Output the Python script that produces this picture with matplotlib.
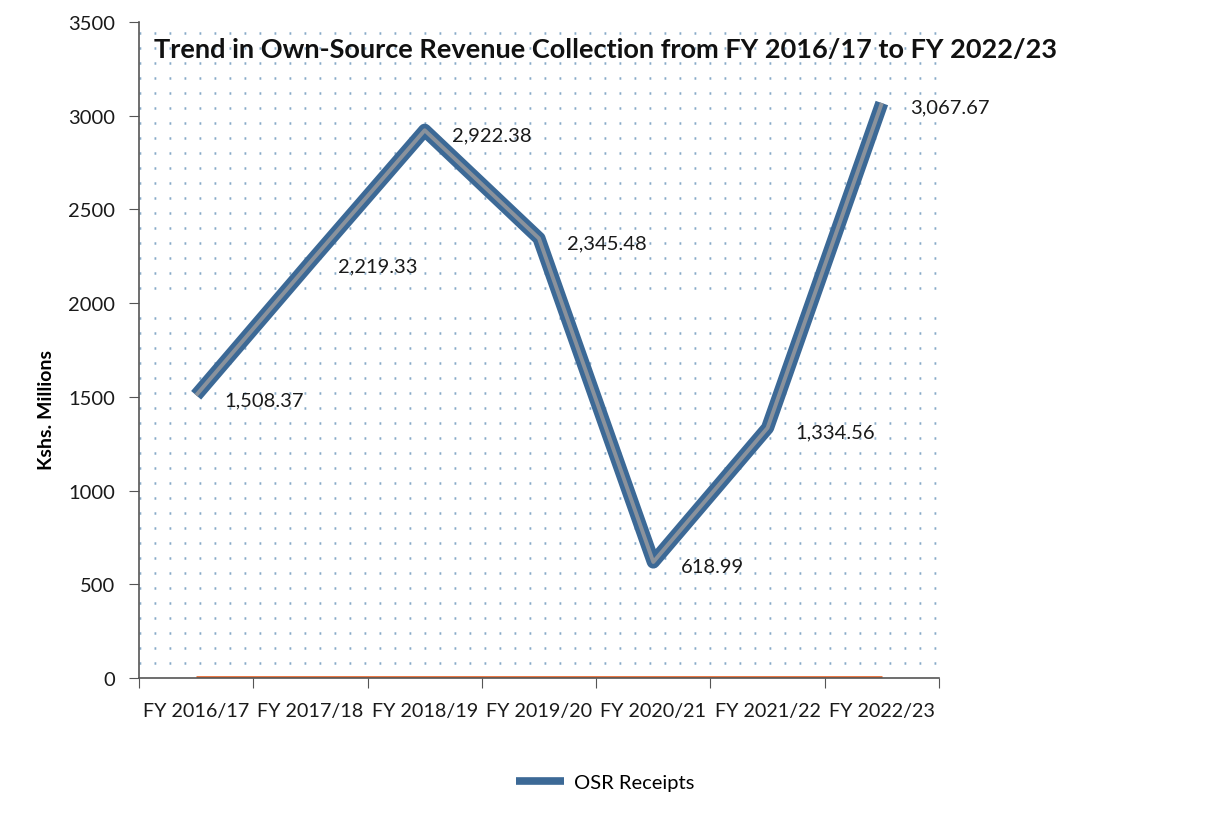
import matplotlib.pyplot as plt
from matplotlib.lines import Line2D
from matplotlib.ticker import MultipleLocator, FixedLocator, NullFormatter
import numpy as np

plt.rcParams['font.family'] = ['Lato', 'DejaVu Sans']
plt.rcParams['lines.scale_dashes'] = False

years = ['FY 2016/17', 'FY 2017/18', 'FY 2018/19', 'FY 2019/20',
         'FY 2020/21', 'FY 2021/22', 'FY 2022/23']
osr = [1508.37, 2219.33, 2922.38, 2345.48, 618.99, 1334.56, 3067.67]
zero_series = [0, 0, 0, 0, 0, 0, 0]

fig = plt.figure(figsize=(12.11, 8.2), dpi=100)
ax = fig.add_axes([139 / 1211, 141 / 820, 800 / 1211, 656 / 820])

x = np.arange(len(years))

# dotted background pattern
ax.set_axisbelow(True)
ax.yaxis.set_minor_locator(MultipleLocator(80))
ax.grid(which='minor', axis='y', color='#88aac8', linestyle=(0, (1.3, 9.5)),
        linewidth=1.8)

ax.plot(x, zero_series, color='#e8703a', linewidth=3.5, solid_capstyle='butt')

ax.plot(x, osr, color='#3c6996', linewidth=9.5, solid_joinstyle='round',
        solid_capstyle='butt')
ax.plot(x, osr, color='#8a929c', linewidth=2.8, solid_joinstyle='round',
        solid_capstyle='butt')

for xi, v in zip(x, osr):
    ax.annotate(f'{v:,.2f}', (xi, v), xytext=(20, -3), textcoords='offset points',
                ha='left', va='center', fontsize=14.5, color='#1a1a1a')

ax.set_xlim(-0.5, 6.5)
ax.set_ylim(0, 3500)
ax.set_yticks(np.arange(0, 3501, 500))
ax.xaxis.set_major_locator(FixedLocator(np.arange(-0.5, 7, 1)))
ax.xaxis.set_major_formatter(NullFormatter())
for xi, lab in zip(x, years):
    ax.text(xi, -0.037, lab, transform=ax.get_xaxis_transform(), ha='center',
            va='top', fontsize=14.2, color='#1a1a1a')

ax.tick_params(axis='both', which='major', direction='out', length=7,
               color='#555555', labelsize=14.5, labelcolor='#1a1a1a')
ax.tick_params(axis='y', pad=10)
ax.tick_params(which='minor', length=0)

for s in ['top', 'right']:
    ax.spines[s].set_visible(False)
ax.spines['left'].set_color('#555555')
ax.spines['bottom'].set_color('#555555')
ax.spines['left'].set_linewidth(1.2)
ax.spines['bottom'].set_linewidth(1.2)

ax.set_ylabel('Kshs. Millions', fontsize=14, fontweight='bold')
ax.yaxis.set_label_coords(-0.105, 0.41)

fig.text(605 / 1211, 1 - 50 / 820,
         'Trend in Own-Source Revenue Collection from FY 2016/17 to FY 2022/23',
         ha='center', va='center', fontsize=19.5, fontweight='bold', color='#111111')

handle = Line2D([], [], color='#3c6996', linewidth=5.5, solid_capstyle='butt')
fig.legend(handles=[handle], labels=['OSR Receipts'], loc='center',
           bbox_to_anchor=(605 / 1211, 1 - 783 / 820), frameon=False,
           fontsize=14.5, handlelength=2.4, handletextpad=0.5)

fig.savefig('out.png', dpi=100, facecolor='white')
